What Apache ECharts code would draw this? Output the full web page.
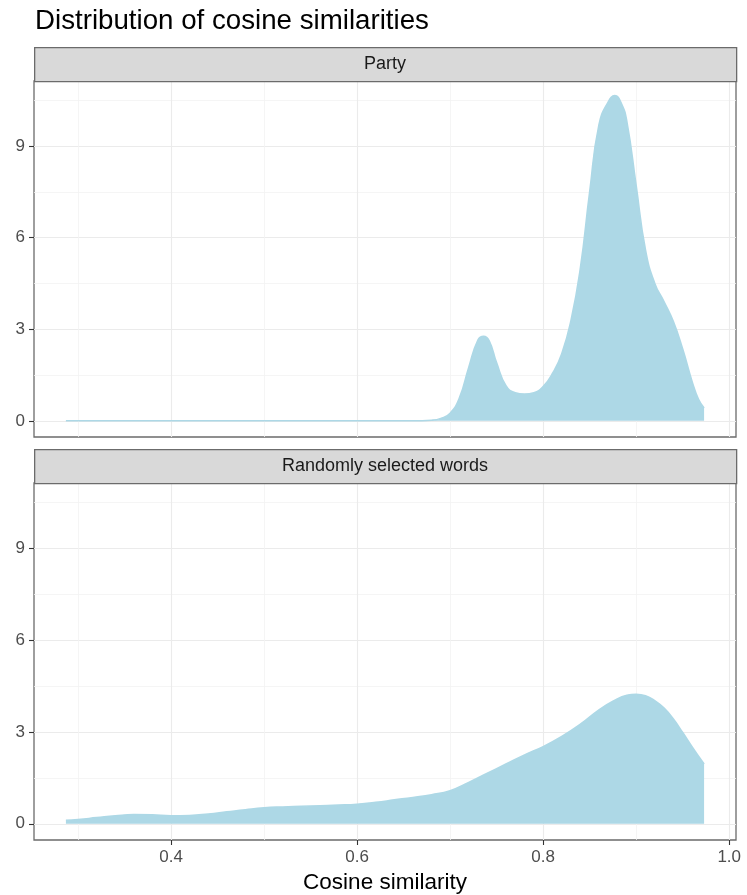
<!DOCTYPE html>
<html>
<head>
<meta charset="utf-8">
<title>Distribution of cosine similarities</title>
<script src="https://cdn.jsdelivr.net/npm/echarts@6/dist/echarts.min.js"></script>
<style>
  html, body { margin: 0; padding: 0; background: #ffffff; }
  #chart { width: 747px; height: 895px; }
</style>
</head>
<body>
<div id="chart"></div>
<script>
// Facet labels
const panelNames = ['Party', 'Randomly selected words'];

// Density estimate for "Party": cosine similarity -> density
const partyX = [0.287, 0.40, 0.50, 0.60, 0.66, 0.680, 0.690, 0.700, 0.710, 0.720, 0.730, 0.736, 0.742,
  0.750, 0.760, 0.770, 0.780, 0.790, 0.800, 0.810, 0.820, 0.830, 0.840, 0.850, 0.860, 0.870, 0.877,
  0.884, 0.890, 0.900, 0.910, 0.920, 0.930, 0.940, 0.950, 0.960, 0.967, 0.973];
const partyY = [0, 0, 0, 0, 0, 0.02, 0.08, 0.25, 0.75, 1.75, 2.65, 2.77, 2.62,
  1.90, 1.15, 0.92, 0.88, 0.92, 1.12, 1.55, 2.20, 3.30, 5.00, 7.50, 9.70, 10.45, 10.65,
  10.40, 9.80, 7.70, 5.60, 4.50, 3.90, 3.25, 2.35, 1.30, 0.70, 0.42];

// Density estimate for "Randomly selected words"
const randomX = [0.287, 0.300, 0.320, 0.340, 0.360, 0.380, 0.400, 0.420, 0.440, 0.460, 0.480, 0.500,
  0.520, 0.540, 0.560, 0.580, 0.600, 0.620, 0.640, 0.660, 0.680, 0.700, 0.720, 0.740, 0.760, 0.780,
  0.800, 0.820, 0.840, 0.860, 0.875, 0.890, 0.900, 0.910, 0.920, 0.930, 0.940, 0.950, 0.960, 0.973];
const randomY = [0.11, 0.14, 0.20, 0.26, 0.30, 0.29, 0.26, 0.27, 0.32, 0.39, 0.46, 0.52,
  0.55, 0.57, 0.59, 0.61, 0.64, 0.70, 0.78, 0.86, 0.95, 1.08, 1.35, 1.65, 1.95, 2.25,
  2.52, 2.85, 3.25, 3.72, 4.00, 4.20, 4.23, 4.18, 4.02, 3.78, 3.42, 2.98, 2.52, 1.95];

// Axis breaks and limits (shared across facets)
const xMajor = [0.4, 0.6, 0.8, 1.0];
const xMinor = [0.3, 0.5, 0.7, 0.9];
const yMajor = [0, 3, 6, 9];
const yMinor = [1.5, 4.5, 7.5, 10.5];
const xLimits = [0.2527, 1.0073];
const yLimits = [-0.53, 11.13];

const FONT = '"Liberation Sans", Arial, sans-serif';
const FILL = '#ADD8E6';
const BORDER = '#6b6b6b';

const grids = [
  { left: 34, right: 11, top: 81, height: 356 },
  { left: 34, right: 11, top: 483, height: 357 }
];

function pairs(xs, ys) { return xs.map((x, i) => [x, ys[i]]); }

const xAxes = [];
const yAxes = [];
grids.forEach((g, gi) => {
  const isBottom = gi === grids.length - 1;
  // major x
  xAxes.push({
    type: 'value', gridIndex: gi, min: xLimits[0], max: xLimits[1], position: 'bottom',
    axisLine: { show: false, onZero: false },
    axisTick: { show: isBottom, customValues: xMajor, length: 5, lineStyle: { color: '#333333', width: 1.1 } },
    axisLabel: { show: isBottom, customValues: xMajor, margin: 9, color: '#4D4D4D', fontSize: 17, fontFamily: FONT,
      formatter: v => v.toFixed(1) },
    splitLine: { show: true, lineStyle: { color: '#EBEBEB', width: 1.1 } },
    name: isBottom ? 'Cosine similarity' : '',
    nameLocation: 'middle', nameGap: 31,
    nameTextStyle: { color: '#000000', fontSize: 22.5, fontFamily: FONT }
  });
  // minor x
  xAxes.push({
    type: 'value', gridIndex: gi, min: xLimits[0], max: xLimits[1], position: 'top',
    axisLine: { show: false, onZero: false }, axisLabel: { show: false },
    axisTick: { show: false, customValues: xMinor },
    splitLine: { show: true, lineStyle: { color: '#F3F3F3', width: 0.8 } }
  });
  // major y
  yAxes.push({
    type: 'value', gridIndex: gi, min: yLimits[0], max: yLimits[1], position: 'left',
    axisLine: { show: false, onZero: false },
    axisTick: { show: true, customValues: yMajor, length: 5, lineStyle: { color: '#333333', width: 1.1 } },
    axisLabel: { show: true, customValues: yMajor, margin: 9, color: '#4D4D4D', fontSize: 17, fontFamily: FONT },
    splitLine: { show: true, lineStyle: { color: '#EBEBEB', width: 1.1 } }
  });
  // minor y
  yAxes.push({
    type: 'value', gridIndex: gi, min: yLimits[0], max: yLimits[1], position: 'right',
    axisLine: { show: false, onZero: false }, axisLabel: { show: false },
    axisTick: { show: false, customValues: yMinor },
    splitLine: { show: true, lineStyle: { color: '#F3F3F3', width: 0.8 } }
  });
});

const panelData = [pairs(partyX, partyY), pairs(randomX, randomY)];
const series = panelData.map((d, gi) => ({
  type: 'line', xAxisIndex: gi * 2, yAxisIndex: gi * 2,
  data: d, smooth: 0.5, showSymbol: false, silent: true, z: 3,
  lineStyle: { color: FILL, width: 1.6 },
  areaStyle: { color: FILL, opacity: 1 }
}));

// Facet strips drawn above each panel
const stripH = 34;
const graphic = [];
grids.forEach((g, gi) => {
  const w = 747 - g.left - g.right;
  graphic.push({
    type: 'rect', left: g.left, top: g.top - stripH, z: 10,
    shape: { width: w, height: stripH },
    style: { fill: '#D9D9D9', stroke: BORDER, lineWidth: 1.3 }
  });
  graphic.push({
    type: 'text', x: g.left + w / 2, y: g.top - stripH / 2, z: 11,
    style: { text: panelNames[gi], fill: '#1A1A1A', fontSize: 18, fontFamily: FONT,
      textAlign: 'center', textVerticalAlign: 'middle' }
  });
});

const chart = echarts.init(document.getElementById('chart'), null, { renderer: 'canvas' });
chart.setOption({
  animation: false,
  backgroundColor: '#ffffff',
  title: {
    text: 'Distribution of cosine similarities',
    left: 35, top: 7, padding: 0,
    textStyle: { color: '#000000', fontSize: 27.7, fontWeight: 'normal', fontFamily: FONT }
  },
  grid: grids.map(g => Object.assign({ show: true, borderColor: BORDER, borderWidth: 1.3, backgroundColor: '#ffffff' }, g)),
  xAxis: xAxes,
  yAxis: yAxes,
  series: series,
  graphic: graphic
});
</script>
</body>
</html>
